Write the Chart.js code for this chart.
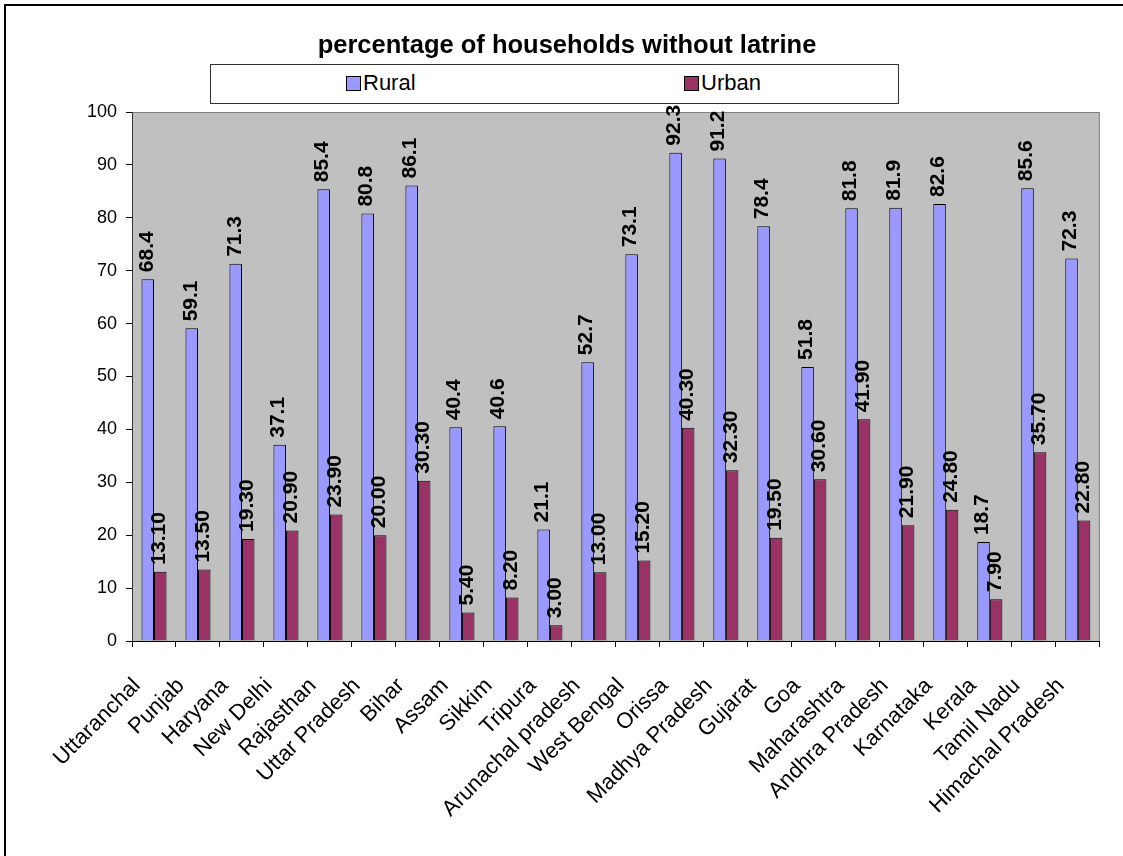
<!DOCTYPE html>
<html lang="en">
<head>
    <meta charset="UTF-8">
    <title>percentage of households without latrine</title>
    <script src="https://cdn.jsdelivr.net/npm/chart.js"></script>
    <style>
        html, body { margin: 0; background: #fff; overflow: hidden; font-family: 'Liberation Sans', Arial, sans-serif; }
        #wrap { position: relative; width: 1123px; height: 856px; overflow: hidden; }
        #frame { position: absolute; left: 4px; top: 4px; width: 1300px; height: 1000px; border: 2px solid #000; }
        #chart { position: absolute; left: 0; top: 0; }
        #title { position: absolute; left: 0; width: 1134px; top: 31px; text-align: center; font-weight: bold; font-size: 25.5px; line-height: 26px; }
        #legend { position: absolute; left: 210px; top: 64px; width: 687px; height: 38px; border: 1px solid #333; background: #fff; }
        .item { position: absolute; top: 4px; font-size: 22px; line-height: 28px; white-space: nowrap; }
        .swatch { display: inline-block; width: 13px; height: 13px; border: 1px solid #000; margin-right: 2px; vertical-align: -1px; }
    </style>
</head>
<body>
<div id="wrap">
    <div id="frame"></div>
    <canvas id="chart" width="1123" height="856"></canvas>
    <div id="title">percentage of households without latrine</div>
    <div id="legend">
        <div class="item" style="left:135px"><span class="swatch" style="background:#9999FF"></span>Rural</div>
        <div class="item" style="left:473px"><span class="swatch" style="background:#993366"></span>Urban</div>
    </div>
</div>

<script>
    // Data
    const states = ['Uttaranchal', 'Punjab', 'Haryana', 'New Delhi', 'Rajasthan', 'Uttar Pradesh', 'Bihar',
        'Assam', 'Sikkim', 'Tripura', 'Arunachal pradesh', 'West Bengal', 'Orissa', 'Madhya Pradesh',
        'Gujarat', 'Goa', 'Maharashtra', 'Andhra Pradesh', 'Karnataka', 'Kerala', 'Tamil Nadu', 'Himachal Pradesh'];
    const rural = [68.4, 59.1, 71.3, 37.1, 85.4, 80.8, 86.1, 40.4, 40.6, 21.1, 52.7,
        73.1, 92.3, 91.2, 78.4, 51.8, 81.8, 81.9, 82.6, 18.7, 85.6, 72.3];
    const urban = [13.10, 13.50, 19.30, 20.90, 23.90, 20.00, 30.30, 5.40, 8.20, 3.00, 13.00,
        15.20, 40.30, 32.30, 19.50, 30.60, 41.90, 21.90, 24.80, 7.90, 35.70, 22.80];
    const labelDecimals = [1, 2];

    const FONT = "'Liberation Sans', Arial, sans-serif";

    // grey plot area with a darker outline
    const plotBg = {
        id: 'plotBg',
        beforeDraw(chart) {
            const { ctx, chartArea: a } = chart;
            ctx.save();
            ctx.fillStyle = '#C0C0C0';
            ctx.fillRect(a.left, a.top, a.right - a.left, a.bottom - a.top);
            ctx.strokeStyle = '#808080';
            ctx.lineWidth = 1;
            ctx.strokeRect(a.left + 0.5, a.top + 0.5, a.right - a.left - 1, a.bottom - a.top);
            ctx.restore();
        }
    };

    // vertical value labels above the bars
    const barLabels = {
        id: 'barLabels',
        afterDatasetsDraw(chart) {
            const ctx = chart.ctx;
            ctx.save();
            ctx.font = 'bold 21px ' + FONT;
            ctx.fillStyle = '#000';
            ctx.textAlign = 'left';
            ctx.textBaseline = 'middle';
            chart.data.datasets.forEach((ds, i) => {
                chart.getDatasetMeta(i).data.forEach((bar, j) => {
                    ctx.save();
                    ctx.translate(bar.x - 1, bar.y - 7);
                    ctx.rotate(-Math.PI / 2);
                    ctx.fillText(ds.data[j].toFixed(labelDecimals[i]), 0, 0);
                    ctx.restore();
                });
            });
            ctx.restore();
        }
    };

    new Chart(document.getElementById('chart'), {
        type: 'bar',
        data: {
            labels: states,
            datasets: [
                { label: 'Rural', data: rural, backgroundColor: '#9999FF', borderColor: '#000', borderWidth: 1 },
                { label: 'Urban', data: urban, backgroundColor: '#993366', borderColor: '#000', borderWidth: 1 }
            ]
        },
        options: {
            responsive: false,
            animation: false,
            categoryPercentage: 0.57,
            barPercentage: 1,
            layout: { padding: { left: 72, top: 112, right: 23, bottom: 5 } },
            plugins: {
                legend: { display: false },
                title: { display: false },
                tooltip: { enabled: false }
            },
            scales: {
                x: {
                    grid: { drawOnChartArea: false, drawTicks: true, tickLength: 6, color: '#000', offset: true },
                    border: { color: '#000', width: 1 },
                    ticks: { color: '#000', font: { family: FONT, size: 22 }, maxRotation: 45, minRotation: 45,
                        autoSkip: false, padding: 26, labelOffset: -17 },
                    afterFit(scale) { scale.height = 210; }
                },
                y: {
                    min: 0,
                    max: 100,
                    grid: { drawOnChartArea: false, drawTicks: true, tickLength: 6, color: '#000' },
                    border: { color: '#333', width: 1 },
                    ticks: { stepSize: 10, color: '#000', font: { family: FONT, size: 18 }, padding: 9 },
                    afterFit(scale) { scale.width = 60; }
                }
            }
        },
        plugins: [plotBg, barLabels]
    });
</script>
</body>
</html>
